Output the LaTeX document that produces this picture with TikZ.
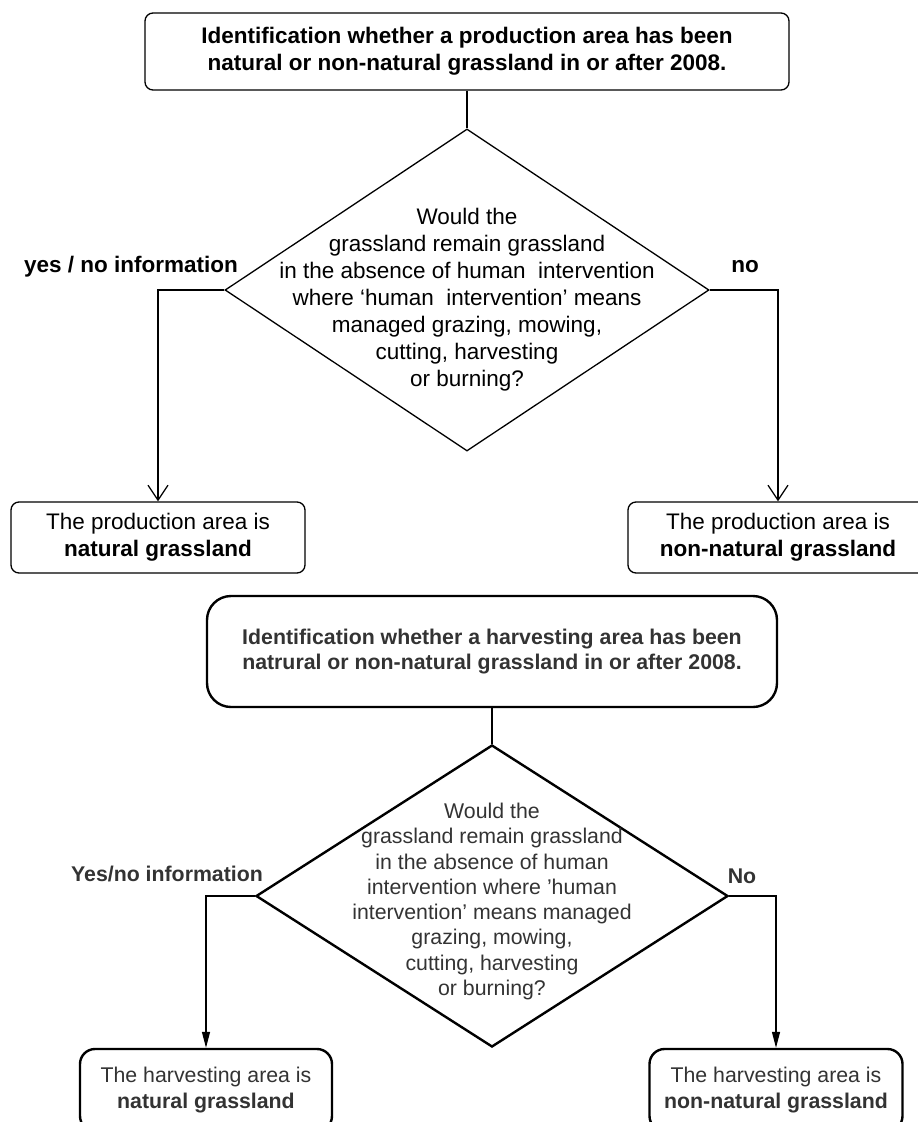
\documentclass[tikz,border=0pt]{standalone}
\usepackage{fontspec}
\setmainfont{Liberation Sans}
\usetikzlibrary{positioning,shapes.geometric,arrows.meta}

\tikzset{
	box/.style={draw, rounded corners=8pt, line width=1.3pt, align=center, inner sep=0pt,
		font=\fontsize{22.5}{27}\selectfont},
	decision/.style={draw, diamond, inner sep=0pt, line width=1.3pt},
	qtext/.style={align=center, inner sep=0pt, font=\fontsize{22.5}{27}\selectfont},
	lbl/.style={inner sep=0pt, font=\fontsize{22.5}{27}\selectfont\bfseries},
	link/.style={line width=1.3pt},
	arrowline/.style={line width=1.3pt, -{Straight Barb[length=15pt,width=20pt,line width=1.3pt]}},
	hbox/.style={draw, rounded corners=15pt, line width=2.4pt, align=center, inner sep=0pt,
		text=black!80, font=\fontsize{21.3}{25.3}\selectfont},
	hdecision/.style={draw, diamond, inner sep=0pt, line width=2.4pt},
	hqtext/.style={align=center, inner sep=0pt, text=black!80, font=\fontsize{21.3}{25.3}\selectfont},
	hlbl/.style={inner sep=0pt, text=black!80, font=\fontsize{21.3}{25.3}\selectfont\bfseries},
	harrow/.style={line width=1.3pt, -{Triangle[length=16pt,width=8pt]}}
}

\begin{document}
\begin{tikzpicture}[x=1pt, y=-1pt]
		% 画布大小与裁剪
		\useasboundingbox (0, 0) rectangle (918, 1122);
		\clip (0, 0) rectangle (918, 1122);
		% 第一张流程图: 生产区域
		\node[box, minimum width=644pt, minimum height=77pt] (start1) at (467, 51.5)
			{\textbf{Identification whether a production area has been}\\
			 \textbf{natural or non-natural grassland in or after 2008.}};
		\node[decision, minimum width=484pt, minimum height=322pt] (q1) at (467, 290) {};
		\node[qtext] (q1text) at (467, 300) {Would the\\grassland remain grassland\\
			in the absence of human\ \ intervention\\where `human\ \ intervention' means\\
			managed grazing, mowing,\\cutting, harvesting\\or burning?};
		\node[box, minimum width=294pt, minimum height=71pt] (yes1) at (158, 537.5)
			{The production area is\\\textbf{natural grassland}};
		\node[box, minimum width=300pt, minimum height=71pt] (no1) at (778, 537.5)
			{The production area is\\\textbf{non-natural grassland}};
		% 分支标签
		\node[lbl] (yes1lbl) at (131, 267) {yes / no information};
		\node[lbl] (no1lbl) at (745, 267) {no};
		% 连线
		\draw[link] (start1.south) -- (q1.north);
		\draw[arrowline] (q1.west) -| (yes1.north);
		\draw[arrowline] (q1.east) -| (no1.north);
		% 第二张流程图: 收获区域
		\node[hbox, rounded corners=24pt, minimum width=570pt, minimum height=111pt] (start2) at (492, 651.5)
			{\textbf{Identification whether a harvesting area has been}\\
			 \textbf{natrural or non-natural grassland in or after 2008.}};
		\node[hdecision, minimum width=472pt, minimum height=302pt] (q2) at (492, 896) {};
		\node[hqtext] (q2text) at (492, 901.5) {Would the\\grassland remain grassland\\
			in the absence of human\\intervention where 'human\\
			intervention' means managed\\grazing, mowing,\\cutting, harvesting\\or burning?};
		\node[hbox, minimum width=252pt, minimum height=82pt] (yes2) at (206, 1090)
			{The harvesting area is\\\textbf{natural grassland}};
		\node[hbox, minimum width=253pt, minimum height=82pt] (no2) at (776, 1090)
			{The harvesting area is\\\textbf{non-natural grassland}};
		% 分支标签
		\node[hlbl] (yes2lbl) at (167, 874) {Yes/no information};
		\node[hlbl] (no2lbl) at (742, 876) {No};
		% 连线
		\draw[link] (start2.south) -- (q2.north);
		\draw[harrow] (q2.west) -| (yes2.north);
		\draw[harrow] (q2.east) -| (no2.north);
	\end{tikzpicture}
\end{document}
